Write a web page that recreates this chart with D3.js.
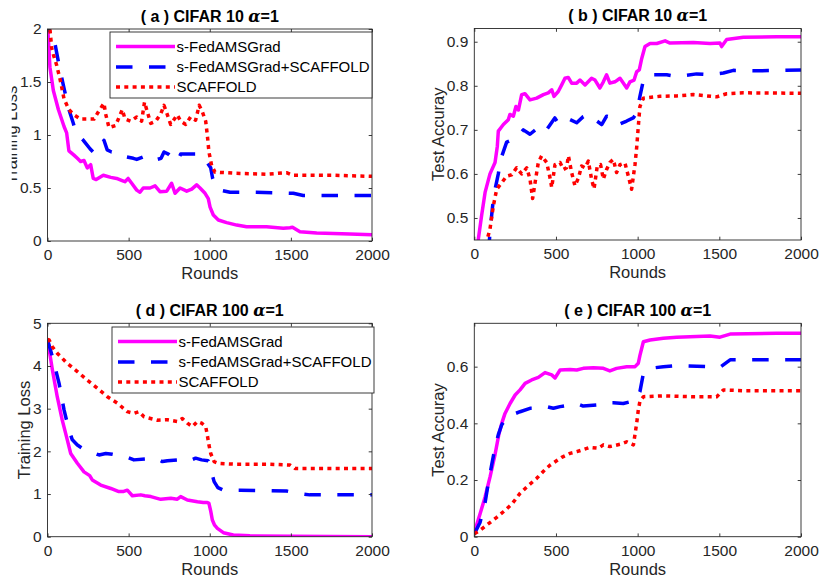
<!DOCTYPE html>
<html>
<head>
<meta charset="utf-8">
<script src="https://cdn.jsdelivr.net/npm/d3@7"></script>
<style>
html,body{margin:0;padding:0;background:#fff;}
svg{display:block;}
text{font-family:"Liberation Sans",Arial,Helvetica,sans-serif;}
</style>
</head>
<body>
<svg id="chart" width="819" height="582"></svg>
<script>
// ---------------- DATA ----------------
const seriesNames = ["s-FedAMSGrad", "s-FedAMSGrad+SCAFFOLD", "SCAFFOLD"];
const xTicks = [0, 500, 1000, 1500, 2000];
const yTicksA = [0, 0.5, 1, 1.5, 2];
const yTicksB = [0.5, 0.6, 0.7, 0.8, 0.9];
const yTicksD = [0, 1, 2, 3, 4, 5];
const yTicksE = [0, 0.2, 0.4, 0.6];

// (a) CIFAR 10 training loss
const aLossS = [[0,2.05],[15,1.64],[36,1.42],[67,1.24],[102,1.08],[118,1.02],[132,0.85],[163,0.81],[184,0.78],[204,0.75],[225,0.76],[245,0.69],[266,0.72],[282,0.59],[300,0.58],[344,0.62],[390,0.60],[426,0.59],[460,0.57],[477,0.56],[497,0.59],[519,0.545],[550,0.48],[570,0.46],[590,0.50],[632,0.50],[663,0.52],[693,0.465],[735,0.47],[765,0.545],[786,0.45],[817,0.50],[858,0.47],[889,0.49],[919,0.53],[940,0.50],[971,0.45],[991,0.40],[1002,0.32],[1022,0.245],[1053,0.198],[1104,0.173],[1166,0.15],[1227,0.135],[1350,0.135],[1453,0.12],[1494,0.125],[1510,0.13],[1556,0.088],[1659,0.075],[1864,0.065],[2000,0.06]];
const aLossSS = [[0,2.15],[30,1.97],[45,1.87],[71,1.66],[102,1.44],[132,1.24],[159,1.11],[174,1.03],[194,0.99],[221,0.95],[262,0.87],[287,0.83],[320,0.88],[348,0.95],[368,0.86],[395,0.84],[450,0.83],[482,0.795],[529,0.78],[550,0.77],[591,0.795],[632,0.81],[677,0.77],[700,0.78],[718,0.84],[745,0.82],[775,0.78],[800,0.75],[821,0.82],[870,0.82],[923,0.82],[944,0.80],[970,0.77],[1006,0.69],[1018,0.59],[1033,0.53],[1063,0.48],[1125,0.46],[1248,0.46],[1412,0.455],[1515,0.45],[1576,0.43],[1761,0.43],[2000,0.43]];
const aLossC = [[0,2.15],[15,2.0],[26,1.82],[36,1.76],[56,1.66],[77,1.53],[102,1.34],[132,1.24],[163,1.19],[204,1.15],[245,1.15],[287,1.15],[318,1.23],[348,1.30],[358,1.20],[379,1.07],[420,1.09],[461,1.24],[478,1.15],[513,1.13],[550,1.17],[580,1.13],[598,1.31],[615,1.22],[636,1.11],[667,1.13],[698,1.20],[718,1.28],[739,1.19],[759,1.10],[800,1.19],[821,1.13],[852,1.10],[882,1.17],[913,1.14],[935,1.28],[954,1.22],[975,1.13],[985,1.0],[995,0.84],[1012,0.71],[1032,0.65],[1145,0.64],[1350,0.63],[1473,0.645],[1514,0.62],[1761,0.62],[2000,0.61]];

// (b) CIFAR 10 test accuracy
const bAccS = [[15,0.42],[25,0.453],[45,0.506],[66,0.558],[96,0.60],[127,0.626],[141,0.663],[147,0.697],[178,0.712],[208,0.723],[218,0.735],[239,0.731],[255,0.753],[270,0.745],[290,0.78],[310,0.782],[341,0.768],[382,0.772],[423,0.78],[453,0.784],[474,0.791],[488,0.776],[514,0.787],[535,0.802],[555,0.817],[575,0.819],[596,0.806],[627,0.806],[647,0.813],[678,0.802],[718,0.817],[739,0.813],[769,0.795],[790,0.809],[810,0.825],[830,0.806],[861,0.809],[892,0.817],[933,0.795],[953,0.809],[978,0.813],[994,0.832],[1010,0.836],[1025,0.862],[1045,0.889],[1076,0.896],[1117,0.896],[1168,0.902],[1198,0.897],[1341,0.898],[1443,0.896],[1504,0.897],[1514,0.889],[1545,0.905],[1647,0.91],[1851,0.911],[2000,0.911]];
const bAccSS = [[88,0.42],[96,0.47],[113,0.53],[127,0.565],[147,0.60],[157,0.622],[168,0.64],[198,0.672],[218,0.675],[259,0.683],[300,0.70],[341,0.69],[392,0.705],[433,0.695],[493,0.727],[514,0.715],[565,0.727],[627,0.716],[667,0.73],[698,0.735],[739,0.723],[780,0.712],[810,0.731],[851,0.727],[882,0.712],[933,0.72],[973,0.727],[994,0.738],[1014,0.776],[1035,0.812],[1076,0.825],[1178,0.825],[1239,0.821],[1361,0.827],[1443,0.825],[1525,0.829],[1586,0.835],[1749,0.834],[2000,0.836]];
const bAccC = [[72,0.42],[80,0.453],[96,0.475],[117,0.528],[137,0.565],[168,0.58],[198,0.595],[229,0.598],[259,0.614],[290,0.60],[321,0.614],[341,0.588],[357,0.544],[372,0.58],[392,0.626],[412,0.641],[443,0.626],[463,0.592],[474,0.569],[494,0.621],[525,0.626],[545,0.61],[565,0.614],[576,0.641],[596,0.603],[616,0.573],[637,0.59],[657,0.618],[678,0.614],[698,0.629],[718,0.588],[733,0.566],[753,0.618],[773,0.621],[790,0.588],[810,0.61],[830,0.626],[851,0.633],[871,0.603],[892,0.621],[922,0.625],[943,0.595],[963,0.565],[984,0.622],[994,0.66],[1004,0.708],[1014,0.753],[1035,0.772],[1137,0.776],[1239,0.777],[1341,0.78],[1484,0.775],[1545,0.782],[1647,0.784],[2000,0.783]];

// (d) CIFAR 100 training loss
const dLossS = [[0,4.63],[30,3.91],[60,3.28],[91,2.73],[122,2.27],[143,1.95],[184,1.72],[225,1.52],[260,1.43],[276,1.33],[328,1.21],[390,1.13],[436,1.06],[470,1.06],[492,1.09],[523,0.96],[575,0.98],[600,0.96],[637,0.94],[698,0.876],[760,0.90],[800,0.88],[821,0.94],[862,0.86],[924,0.82],[960,0.80],[985,0.80],[995,0.78],[1006,0.6],[1016,0.39],[1030,0.27],[1047,0.196],[1084,0.094],[1145,0.04],[1248,0.02],[1500,0.01],[2000,0.0]];
const dLossSS = [[0,4.62],[30,4.22],[71,3.60],[102,2.97],[132,2.50],[153,2.27],[184,2.15],[215,2.07],[260,2.0],[318,1.915],[359,1.95],[400,1.93],[440,1.9],[482,1.875],[533,1.80],[600,1.82],[667,1.84],[708,1.76],[739,1.78],[800,1.80],[862,1.76],[913,1.84],[950,1.80],[990,1.78],[1006,1.58],[1027,1.29],[1050,1.15],[1084,1.09],[1186,1.09],[1350,1.08],[1473,1.07],[1535,1.02],[1617,0.98],[2000,0.98]];
const dLossC = [[0,4.62],[10,4.61],[30,4.45],[60,4.30],[122,4.06],[184,3.87],[245,3.67],[307,3.48],[369,3.28],[430,3.13],[492,2.93],[533,2.89],[564,2.93],[595,2.81],[677,2.73],[739,2.74],[800,2.70],[831,2.77],[862,2.66],[893,2.58],[924,2.70],[950,2.66],[975,2.58],[985,2.38],[995,2.15],[1006,1.95],[1027,1.76],[1053,1.72],[1145,1.70],[1350,1.70],[1494,1.68],[1525,1.60],[2000,1.60]];

// (e) CIFAR 100 test accuracy
const eAccS = [[0,0.015],[35,0.08],[66,0.14],[96,0.21],[127,0.29],[150,0.36],[168,0.40],[188,0.435],[219,0.47],[250,0.50],[280,0.518],[311,0.541],[351,0.553],[392,0.562],[433,0.579],[474,0.571],[494,0.56],[525,0.588],[586,0.59],[627,0.588],[667,0.594],[729,0.596],[790,0.594],[830,0.585],[871,0.594],[933,0.60],[984,0.60],[1004,0.612],[1014,0.64],[1025,0.665],[1035,0.688],[1076,0.694],[1157,0.70],[1239,0.704],[1443,0.708],[1504,0.704],[1566,0.715],[1851,0.718],[2000,0.718]];
const eAccSS = [[0,0.01],[35,0.05],[66,0.12],[86,0.19],[107,0.255],[127,0.315],[147,0.36],[168,0.395],[198,0.42],[239,0.432],[280,0.441],[341,0.453],[382,0.453],[443,0.459],[484,0.453],[525,0.459],[586,0.465],[627,0.47],[667,0.461],[749,0.465],[790,0.473],[851,0.473],[912,0.47],[953,0.476],[990,0.482],[1014,0.512],[1035,0.576],[1076,0.594],[1157,0.60],[1239,0.604],[1443,0.60],[1504,0.598],[1566,0.624],[2000,0.624]];
const eAccC = [[0,0.01],[40,0.025],[96,0.05],[137,0.068],[178,0.088],[230,0.115],[280,0.153],[330,0.18],[382,0.206],[430,0.235],[463,0.252],[535,0.28],[586,0.294],[627,0.30],[708,0.315],[759,0.312],[790,0.324],[830,0.318],[892,0.326],[933,0.335],[974,0.324],[994,0.40],[1004,0.447],[1014,0.478],[1035,0.494],[1157,0.497],[1341,0.494],[1484,0.494],[1525,0.518],[1647,0.515],[2000,0.515]];

// ---------------- LAYOUT / STYLE ----------------
const colors = ["#ff00ff", "#0000ff", "#ff0000"];
const dashes = [null, "16.5,16.5", "4,4.3"];
const axisColor = "#262626";

const panels = [
  {title:"( a ) CIFAR 10 ", x0:47.5, x1:372, y0:29, y1:241, ydom:[0,2], yticks:yTicksA, ylab:"Training Loss", ylabX:17.3, clipLab:11.7, data:[aLossS,aLossSS,aLossC], legend:{x:110,y:32}},
  {title:"( b ) CIFAR 10 ", x0:474.3, x1:801, y0:28.5, y1:240, ydom:[0.45,0.93], yticks:yTicksB, ylab:"Test Accuray", ylabX:444, data:[bAccS,bAccSS,bAccC]},
  {title:"( d ) CIFAR 100 ", x0:47.5, x1:372, y0:323.3, y1:536.7, ydom:[0,5], yticks:yTicksD, ylab:"Training Loss", ylabX:29.5, data:[dLossS,dLossSS,dLossC], legend:{x:112,y:327}},
  {title:"( e ) CIFAR 100 ", x0:474.3, x1:801, y0:323.3, y1:536.7, ydom:[0,0.753], yticks:yTicksE, ylab:"Test Accuray", ylabX:444, data:[eAccS,eAccSS,eAccC]}
];

const svg = d3.select("#chart");
const defs = svg.append("defs");

panels.forEach((p, i) => {
  const x = d3.scaleLinear().domain([0, 2000]).range([p.x0, p.x1]);
  const y = d3.scaleLinear().domain(p.ydom).range([p.y1, p.y0]);
  const g = svg.append("g");

  defs.append("clipPath").attr("id", "clip" + i)
    .append("rect").attr("x", p.x0).attr("y", p.y0)
    .attr("width", p.x1 - p.x0).attr("height", p.y1 - p.y0);

  // lines
  const line = d3.line().x(d => x(d[0])).y(d => y(d[1]));
  const lg = g.append("g").attr("clip-path", `url(#clip${i})`);
  p.data.forEach((ser, k) => {
    lg.append("path").datum(ser)
      .attr("d", line)
      .attr("fill", "none")
      .attr("stroke", colors[k])
      .attr("stroke-width", 3.5)
      .attr("stroke-linejoin", "round")
      .attr("stroke-linecap", "butt")
      .attr("stroke-dasharray", dashes[k]);
  });

  // axes (ticks inside, box)
  const tl = 3.3;
  const axB = d3.axisBottom(x).tickValues(xTicks).tickSize(-tl).tickPadding(8).tickFormat(d3.format("d"));
  const axT = d3.axisTop(x).tickValues(xTicks).tickSize(-tl).tickFormat("");
  const axL = d3.axisLeft(y).tickValues(p.yticks).tickSize(-tl).tickPadding(6).tickFormat(d => String(+d.toFixed(2)));
  const axR = d3.axisRight(y).tickValues(p.yticks).tickSize(-tl).tickFormat("");

  const gb = g.append("g").attr("transform", `translate(0,${p.y1})`).call(axB);
  const gt = g.append("g").attr("transform", `translate(0,${p.y0})`).call(axT);
  const gl = g.append("g").attr("transform", `translate(${p.x0},0)`).call(axL);
  const gr = g.append("g").attr("transform", `translate(${p.x1},0)`).call(axR);
  [gb, gt, gl, gr].forEach(a => {
    a.select(".domain").remove();
    a.selectAll("line").attr("stroke", axisColor).attr("stroke-width", 0.9);
    a.selectAll("text").attr("fill", axisColor)
      .style("font-size", "15.5px")
      .style("font-family", '"Liberation Sans",Arial,Helvetica,sans-serif');
  });
  gb.selectAll("text").attr("dy", "0.71em");
  g.append("rect").attr("x", p.x0).attr("y", p.y0)
    .attr("width", p.x1 - p.x0).attr("height", p.y1 - p.y0)
    .attr("fill", "none").attr("stroke", axisColor).attr("stroke-width", 0.9);

  // x label
  g.append("text").attr("x", (p.x0 + p.x1) / 2).attr("y", p.y1 + 38)
    .attr("text-anchor", "middle").attr("fill", axisColor)
    .style("font-size", "16.5px").text("Rounds");

  // y label
  const ylab = g.append("text")
    .attr("transform", `translate(${p.ylabX},${(p.y0 + p.y1) / 2}) rotate(-90)`)
    .attr("text-anchor", "middle").attr("fill", axisColor)
    .style("font-size", "16.5px").text(p.ylab);
  if (p.clipLab !== undefined) {
    defs.append("clipPath").attr("id", "labclip" + i)
      .append("rect").attr("x", p.clipLab).attr("y", 0).attr("width", 40).attr("height", 582);
    const wrap = g.append("g").attr("clip-path", `url(#labclip${i})`);
    wrap.node().appendChild(ylab.node());
  }

  // title
  const t = g.append("text").attr("x", (p.x0 + p.x1) / 2).attr("y", p.y0 - 7.5)
    .attr("text-anchor", "middle").attr("fill", "#000")
    .style("font-size", "16px").style("font-weight", "bold");
  t.append("tspan").text(p.title);
  t.append("tspan").style("font-family", '"DejaVu Serif","Liberation Serif",serif')
    .style("font-style", "italic").style("font-size", "16px").text("α");
  t.append("tspan").text("=1");

  // legend
  if (p.legend) {
    const L = p.legend;
    const lgd = g.append("g").attr("transform", `translate(${L.x},${L.y})`);
    lgd.append("rect").attr("x", 0).attr("y", 0).attr("width", 262).attr("height", 66)
      .attr("fill", "#fff").attr("stroke", axisColor).attr("stroke-width", 0.9);
    const rows = [14.5, 35, 55];
    seriesNames.forEach((name, k) => {
      lgd.append("line").attr("x1", 6).attr("x2", 65).attr("y1", rows[k]).attr("y2", rows[k])
        .attr("stroke", colors[k]).attr("stroke-width", 3.5)
        .attr("stroke-dasharray", dashes[k]);
      lgd.append("text").attr("x", 66.5).attr("y", rows[k] + 5.3)
        .attr("fill", "#000").style("font-size", "15px").text(name);
    });
  }
});
</script>
</body>
</html>
